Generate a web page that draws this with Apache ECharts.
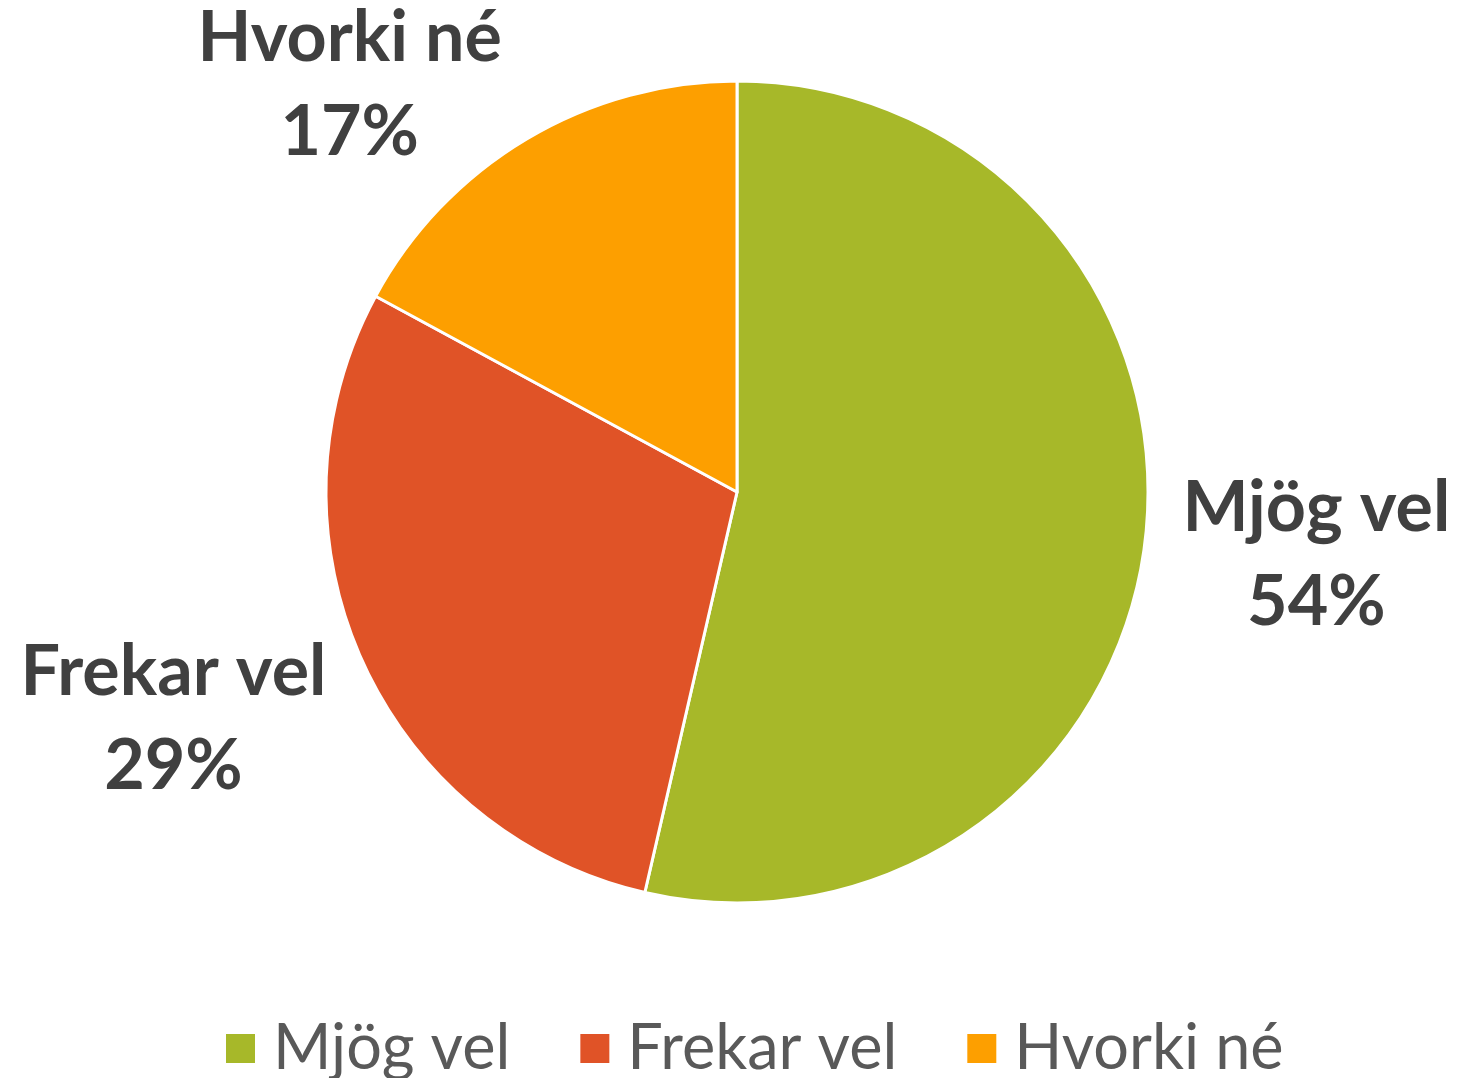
<!DOCTYPE html>
<html>
<head>
<meta charset="utf-8">
<script src="https://cdn.jsdelivr.net/npm/echarts@6/dist/echarts.min.js"></script>
<style>
  html, body { margin: 0; padding: 0; background: #fff; }
  #main { width: 1458px; height: 1078px; }
</style>
</head>
<body>
<div id="main"></div>
<script>
// chart data
const categories = ['Mjög vel', 'Frekar vel', 'Hvorki né'];
const shares = [53.6, 29.3, 17.1];
const colors = ['#A7B829', '#E05327', '#FD9F00'];

// label nudges (styling only)
const labelShift = [[166, 17], [-184, 58], [-172, -53]];

const chart = echarts.init(document.getElementById('main'));

chart.setOption({
  backgroundColor: '#fff',
  color: colors,
  legend: {
    data: categories,
    top: 1012,
    left: 219,
    icon: 'rect',
    itemWidth: 31,
    itemHeight: 31,
    itemGap: 68,
    textStyle: {
      fontFamily: 'Lato',
      fontSize: 63,
      color: '#595959',
      padding: [0, 0, 0, 12]
    }
  },
  series: [{
    type: 'pie',
    center: ['50.55%', '45.64%'],
    radius: 411,
    startAngle: 90,
    clockwise: true,
    percentPrecision: 0,
    avoidLabelOverlap: false,
    itemStyle: { borderColor: '#fff', borderWidth: 3 },
    label: {
      show: true,
      position: 'outside',
      formatter: '{b}\n{d}%',
      fontFamily: 'Lato',
      fontWeight: 'bold',
      fontSize: 70,
      lineHeight: 94,
      color: '#404040'
    },
    labelLine: { show: false, length: 0, length2: 0 },
    labelLayout: function (p) {
      const s = labelShift[p.dataIndex];
      return { align: 'center', dx: s[0], dy: s[1] };
    },
    emphasis: { disabled: true },
    data: categories.map((c, i) => ({ name: c, value: shares[i] }))
  }]
});
</script>
</body>
</html>
